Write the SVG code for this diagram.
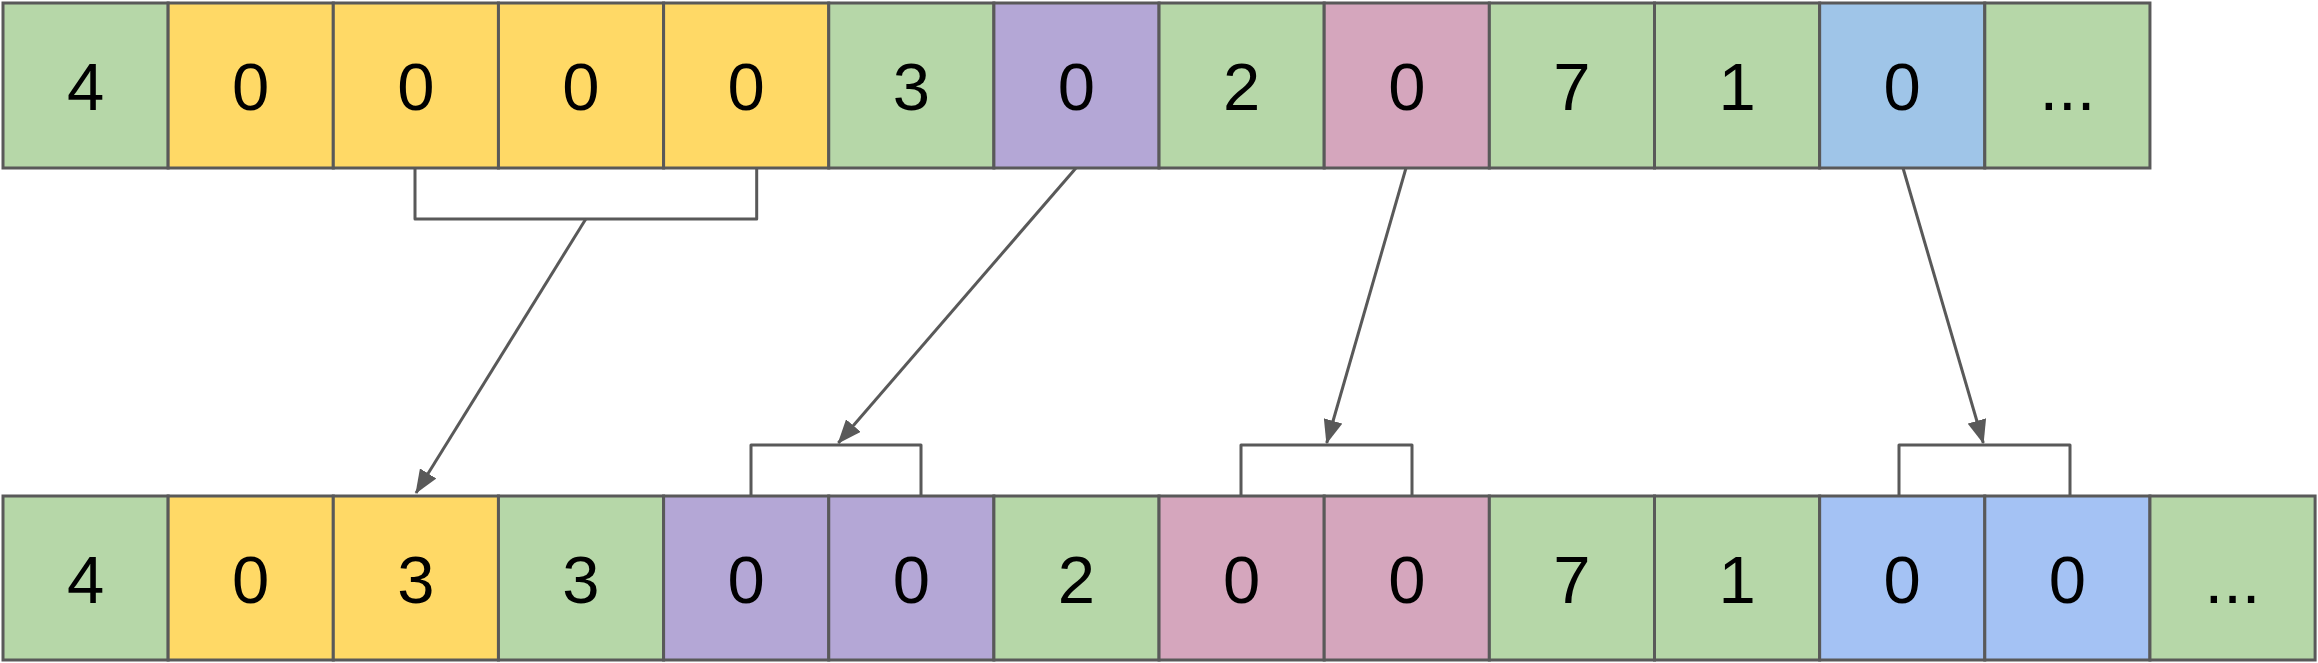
<svg xmlns="http://www.w3.org/2000/svg" width="2318" height="663" viewBox="0 0 2318 663">
<style>
.c{stroke:#595959;stroke-width:3}
.g{fill:#b6d7a8}.y{fill:#ffd966}.p{fill:#b4a7d6}.k{fill:#d5a6bd}.b{fill:#9fc5e8}.b2{fill:#a4c2f4}
.t{font-family:"Liberation Sans",Arial,sans-serif;font-size:67px;fill:#000;text-anchor:middle}
.br{fill:#fff;stroke:#595959;stroke-width:3;stroke-linejoin:round}
.ar{stroke:#595959;stroke-width:3;fill:none;marker-end:url(#ah)}
</style>
<defs>
<marker id="ah" markerUnits="userSpaceOnUse" markerWidth="24" markerHeight="19.2" viewBox="0 0 24 19.2" refX="23" refY="9.6" orient="auto">
<path d="M0,0 L24,9.6 L0,19.2 z" fill="#595959"/>
</marker>
</defs>
<rect width="2318" height="663" fill="#fff"/>
<g id="brackets">
<path class="br" d="M415,168 V219 H756.7 V168"/>
<path class="br" d="M751,496 V445 H921 V496"/>
<path class="br" d="M1241,496 V445 H1412 V496"/>
<path class="br" d="M1899,496 V445 H2070 V496"/>
</g>
<g id="top-row">
<g id="t0"><rect class="c g" x="3" y="3" width="165.15" height="165"/><text class="t" x="85.6" y="110">4</text></g>
<g id="t1"><rect class="c y" x="168.15" y="3" width="165.15" height="165"/><text class="t" x="250.7" y="110">0</text></g>
<g id="t2"><rect class="c y" x="333.3" y="3" width="165.15" height="165"/><text class="t" x="415.9" y="110">0</text></g>
<g id="t3"><rect class="c y" x="498.45" y="3" width="165.15" height="165"/><text class="t" x="581" y="110">0</text></g>
<g id="t4"><rect class="c y" x="663.6" y="3" width="165.15" height="165"/><text class="t" x="746.2" y="110">0</text></g>
<g id="t5"><rect class="c g" x="828.75" y="3" width="165.15" height="165"/><text class="t" x="911.3" y="110">3</text></g>
<g id="t6"><rect class="c p" x="993.9" y="3" width="165.15" height="165"/><text class="t" x="1076.5" y="110">0</text></g>
<g id="t7"><rect class="c g" x="1159.05" y="3" width="165.15" height="165"/><text class="t" x="1241.6" y="110">2</text></g>
<g id="t8"><rect class="c k" x="1324.2" y="3" width="165.15" height="165"/><text class="t" x="1406.8" y="110">0</text></g>
<g id="t9"><rect class="c g" x="1489.35" y="3" width="165.15" height="165"/><text class="t" x="1571.9" y="110">7</text></g>
<g id="t10"><rect class="c g" x="1654.5" y="3" width="165.15" height="165"/><text class="t" x="1737.1" y="110">1</text></g>
<g id="t11"><rect class="c b" x="1819.65" y="3" width="165.15" height="165"/><text class="t" x="1902.2" y="110">0</text></g>
<g id="t12"><rect class="c g" x="1984.8" y="3" width="165.15" height="165"/><text class="t" x="2067.4" y="110">...</text></g>
</g>
<g id="bottom-row">
<g id="b0"><rect class="c g" x="3" y="496" width="165.15" height="164"/><text class="t" x="85.6" y="603">4</text></g>
<g id="b1"><rect class="c y" x="168.15" y="496" width="165.15" height="164"/><text class="t" x="250.7" y="603">0</text></g>
<g id="b2"><rect class="c y" x="333.3" y="496" width="165.15" height="164"/><text class="t" x="415.9" y="603">3</text></g>
<g id="b3"><rect class="c g" x="498.45" y="496" width="165.15" height="164"/><text class="t" x="581" y="603">3</text></g>
<g id="b4"><rect class="c p" x="663.6" y="496" width="165.15" height="164"/><text class="t" x="746.2" y="603">0</text></g>
<g id="b5"><rect class="c p" x="828.75" y="496" width="165.15" height="164"/><text class="t" x="911.3" y="603">0</text></g>
<g id="b6"><rect class="c g" x="993.9" y="496" width="165.15" height="164"/><text class="t" x="1076.5" y="603">2</text></g>
<g id="b7"><rect class="c k" x="1159.05" y="496" width="165.15" height="164"/><text class="t" x="1241.6" y="603">0</text></g>
<g id="b8"><rect class="c k" x="1324.2" y="496" width="165.15" height="164"/><text class="t" x="1406.8" y="603">0</text></g>
<g id="b9"><rect class="c g" x="1489.35" y="496" width="165.15" height="164"/><text class="t" x="1571.9" y="603">7</text></g>
<g id="b10"><rect class="c g" x="1654.5" y="496" width="165.15" height="164"/><text class="t" x="1737.1" y="603">1</text></g>
<g id="b11"><rect class="c b2" x="1819.65" y="496" width="165.15" height="164"/><text class="t" x="1902.2" y="603">0</text></g>
<g id="b12"><rect class="c b2" x="1984.8" y="496" width="165.15" height="164"/><text class="t" x="2067.4" y="603">0</text></g>
<g id="b13"><rect class="c g" x="2149.95" y="496" width="165.15" height="164"/><text class="t" x="2232.5" y="603">...</text></g>
</g>
<g id="connectors">
<line class="ar" x1="585.8" y1="219" x2="416" y2="493"/>
<line class="ar" x1="1076" y1="168" x2="838.3" y2="443"/>
<line class="ar" x1="1406" y1="168" x2="1326.7" y2="443"/>
<line class="ar" x1="1903" y1="168" x2="1983.3" y2="443"/>
</g>
</svg>
